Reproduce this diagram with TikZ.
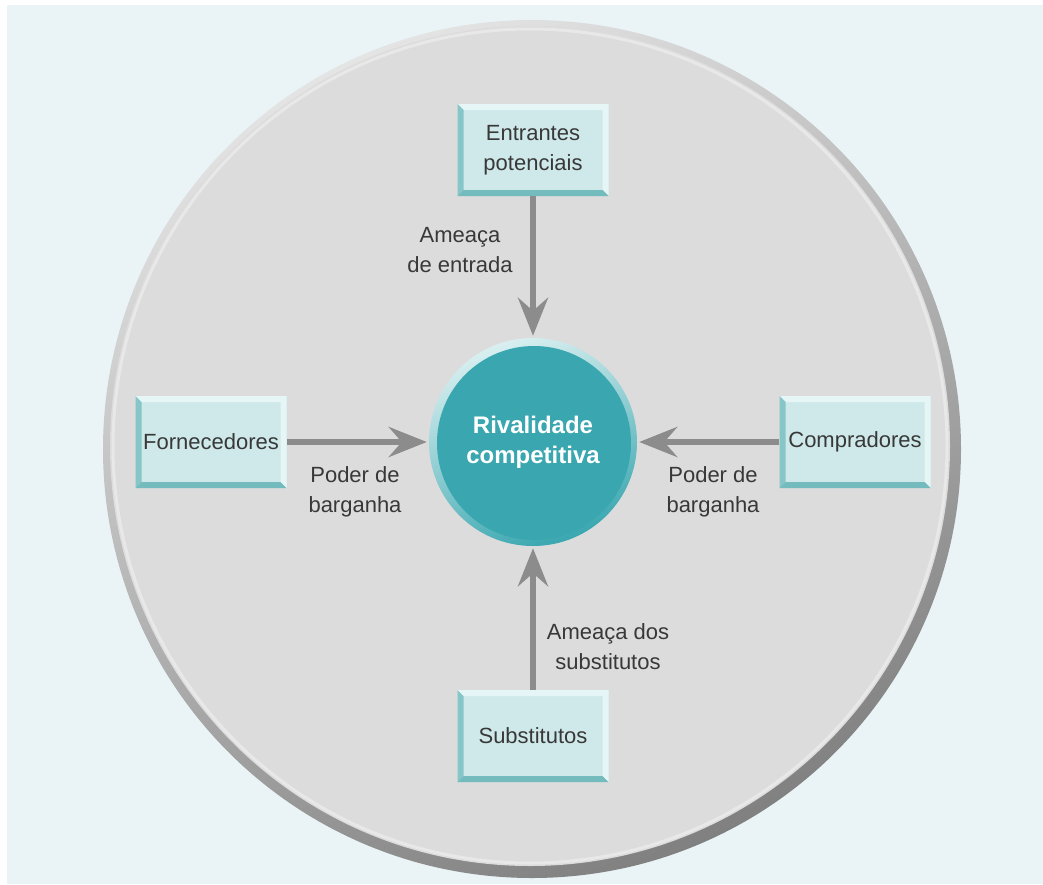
\documentclass[tikz,border=0pt]{standalone}
\usepackage{fontspec}
\setmainfont{Liberation Sans}
\usetikzlibrary{arrows.meta,calc}
\definecolor{pagebg}{HTML}{EAF4F6}
\definecolor{discfill}{HTML}{DCDCDC}
\definecolor{rimlight}{HTML}{E4E4E4}
\definecolor{rimdark}{HTML}{808080}
\definecolor{boxfill}{HTML}{CFE9EA}
\definecolor{bevdark}{HTML}{86C6C8}
\definecolor{bevdeep}{HTML}{74BBBD}
\definecolor{bevlight}{HTML}{E6F5F5}
\definecolor{coreteal}{HTML}{3AA7B0}
\definecolor{corerim}{HTML}{D9EFF0}
\definecolor{arrowgray}{HTML}{8C8C8C}
\definecolor{textgray}{HTML}{383838}
\begin{document}
\begin{tikzpicture}[x=1pt,y=-1pt,
  txt/.style={font=\fontsize{22pt}{30pt}\selectfont, text=textgray, align=center, inner sep=0pt},
  bevelbox/.style={txt, minimum width=151pt, minimum height=92pt, fill=boxfill,
    path picture={
      \coordinate (nw) at (path picture bounding box.north west);
      \coordinate (ne) at (path picture bounding box.north east);
      \coordinate (sw) at (path picture bounding box.south west);
      \coordinate (se) at (path picture bounding box.south east);
      % top and right edges catch the light
      \fill[bevlight] (nw) -- (ne) -- (se) -- ($(se)+(-6pt,6pt)$) -- ($(ne)+(-6pt,-6pt)$) -- ($(nw)+(6pt,-6pt)$) -- cycle;
      % left edge in shade
      \fill[bevdark] (nw) -- ($(nw)+(6pt,-6pt)$) -- ($(sw)+(6pt,6pt)$) -- (sw) -- cycle;
      % bottom edge in deeper shade
      \fill[bevdeep] (sw) -- ($(sw)+(6pt,6pt)$) -- ($(se)+(-6pt,6pt)$) -- (se) -- cycle;
    }},
  corecircle/.style={circle, minimum size=208pt, inner sep=0pt,
    top color=corerim, bottom color=coreteal, shading angle=20,
    font=\fontsize{24pt}{30pt}\selectfont\bfseries, text=white, align=center,
    path picture={
      \fill[coreteal] ($(path picture bounding box.center)+(1pt,-1pt)$) circle[radius=97pt];
    }},
  force/.style={draw=arrowgray, line width=6pt,
    -{Stealth[length=38pt, width=30pt, inset=13pt]}, shorten >=2pt}]
\useasboundingbox (0,0) rectangle (1043,884);
\fill[white] (0,0) rectangle (1043,884);
\fill[pagebg] (7,5) rectangle (1043,884);

% large grey disc with shaded rim
\shade[top color=rimlight, bottom color=rimdark, shading angle=25]
  (532,449) circle[radius=429pt];
\fill[discfill] (530,446) circle[radius=420pt];
\draw[white, opacity=0.35, line width=3pt] (530,446) circle[radius=417pt];

% central circle
\node[corecircle] (rival) at (533,442) {Rivalidade\\competitiva};

% the four forces
\node[bevelbox] (entr) at (533,150) {Entrantes\\potenciais};
\node[bevelbox] (forn) at (211,442) {Fornecedores};
\node[bevelbox] (comp) at (855,442) {Compradores};
\node[bevelbox] (subs) at (533,736) {Substitutos};

\draw[force] (entr) -- (rival);
\draw[force] (forn) -- (rival);
\draw[force] (comp) -- (rival);
\draw[force] (subs) -- (rival);

% arrow labels
\node[txt] (l1) at (460,250) {Ameaça\\de entrada};
\node[txt] (l2) at (355,492) {Poder de\\barganha};
\node[txt] (l3) at (713,492) {Poder de\\barganha};
\node[txt] (l4) at (608,647) {Ameaça dos\\substitutos};
\end{tikzpicture}
\end{document}
